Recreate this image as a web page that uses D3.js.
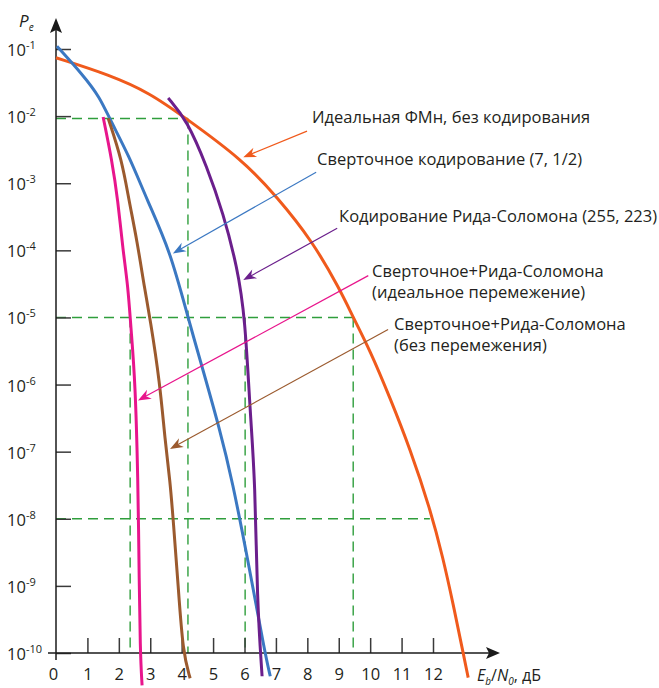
<!DOCTYPE html>
<html>
<head>
<meta charset="utf-8">
<script src="https://cdn.jsdelivr.net/npm/d3@7/dist/d3.min.js"></script>
<style>
  body { margin: 0; background: #fff; }
  svg { display: block; }
  text { font-family: "Open Sans", "Noto Sans", sans-serif; fill: #231f20; }
</style>
</head>
<body>
<svg id="chart" width="659" height="688"></svg>
<script>
// --- data (Eb/N0 in dB, Pe) ---
const xTicks = [0, 1, 2, 3, 4, 5, 6, 7, 8, 9, 10, 11, 12];
const yTicks = [1e-1, 1e-2, 1e-3, 1e-4, 1e-5, 1e-6, 1e-7, 1e-8, 1e-9, 1e-10];

const uncodedDb = [0, 1.72, 2.99, 4.04, 5.96, 7.04, 8.15, 9.04, 9.46, 10.0, 10.64, 11.27, 11.91, 12.32, 12.64, 12.96, 13.12];
const uncodedPe = [7.4e-2, 4.1e-2, 2.2e-2, 1e-2, 2.2e-3, 6.2e-4, 1.4e-4, 2.6e-5, 1e-5, 3.2e-6, 6.2e-7, 1.1e-7, 1.4e-8, 2.6e-9, 5.4e-10, 1e-10, 4.3e-11];

const convDb = [0.03, 0.86, 1.40, 1.72, 2.32, 2.90, 3.63, 4.20, 4.59, 5.22, 5.61, 6.11, 6.65, 6.82];
const convPe = [1.1e-1, 4.1e-2, 1.9e-2, 8.8e-3, 2.6e-3, 5.6e-4, 1e-4, 1e-5, 2.3e-6, 2.1e-7, 3.7e-8, 2.4e-9, 1e-10, 4.5e-11];

const rsDb = [3.57, 4.17, 4.81, 5.32, 5.77, 6.02, 6.18, 6.34, 6.40, 6.56];
const rsPe = [1.86e-2, 8.7e-3, 1.73e-3, 3.6e-4, 5.6e-5, 1e-5, 3.7e-7, 3.7e-8, 6e-10, 4.5e-11];

const concatIdealDb = [1.50, 1.78, 1.97, 2.13, 2.29, 2.39, 2.52, 2.61, 2.64, 2.68, 2.74];
const concatIdealPe = [9.7e-3, 2.2e-3, 5.6e-4, 1e-4, 3e-5, 6.4e-6, 1.15e-6, 3.7e-8, 2.4e-9, 1e-10, 3.3e-11];

const concatNoIlDb = [1.66, 2.10, 2.32, 2.58, 2.83, 2.99, 3.31, 3.47, 3.63, 3.73, 3.89, 4.04, 4.27];
const concatNoIlPe = [9.3e-3, 2.2e-3, 5.6e-4, 1.4e-4, 2.5e-5, 1e-5, 1.04e-6, 1.46e-7, 3.7e-8, 9.7e-9, 1e-9, 1e-10, 4.2e-11];

// dashed guide lines
const guideHPe = [9.2e-3, 1e-5, 1e-8];
const guideHEnd = [4.2, 9.46, 11.9];
const guideVDb = [2.36, 4.2, 6.02, 9.46];
const guideVTop = [1e-5, 9.2e-3, 1e-5, 1e-5];

// annotation labels
const labelLines = [
  ["Идеальная ФМн, без кодирования"],
  ["Сверточное кодирование (7, 1/2)"],
  ["Кодирование Рида-Соломона (255, 223)"],
  ["Сверточное+Рида-Соломона", "(идеальное перемежение)"],
  ["Сверточное+Рида-Соломона", "(без перемежения)"]
];
const labelDb = [8.15, 8.31, 9.01, 10.06, 10.76];
const labelPe = [7.9e-3, 1.86e-3, 2.6e-4, 3.95e-5, 6.4e-6];
const leaderDb = [7.99, 8.28, 8.95, 9.94, 10.57];
const leaderPe = [5.97e-3, 1.46e-3, 2.13e-4, 4.2e-5, 6.6e-6];
const tipDb = [5.96, 3.72, 5.96, 2.61, 3.63];
const tipPe = [2.44e-3, 9e-5, 3.6e-5, 5.8e-7, 1.1e-7];

const series = [
  { db: uncodedDb, pe: uncodedPe, color: "#f05a1c" },
  { db: convDb, pe: convPe, color: "#3b78c2" },
  { db: rsDb, pe: rsPe, color: "#6b1f8c" },
  { db: concatIdealDb, pe: concatIdealPe, color: "#e8158c" },
  { db: concatNoIlDb, pe: concatNoIlPe, color: "#9b5a2e" }
];

const svg = d3.select("#chart");

const x = d3.scaleLinear().domain([0, 12]).range([56, 433]);
const y = d3.scaleLog().domain([1e-10, 1e-1]).range([653, 49]);

const guideColor = "#2f9e3c";
const axisColor = "#1a1a1a";
const tickColor = "#3a3a3a";
const fontSize = 16.5;

// guide lines
const guides = svg.append("g")
  .attr("stroke", guideColor)
  .attr("stroke-width", 1.4)
  .attr("stroke-dasharray", "10,6")
  .attr("fill", "none");

guides.selectAll(".gh")
  .data(guideHPe)
  .enter().append("line")
  .attr("x1", x(0))
  .attr("x2", (d, i) => x(guideHEnd[i]))
  .attr("y1", d => y(d))
  .attr("y2", d => y(d));

guides.selectAll(".gv")
  .data(guideVDb)
  .enter().append("line")
  .attr("x1", d => x(d))
  .attr("x2", d => x(d))
  .attr("y1", (d, i) => y(guideVTop[i]))
  .attr("y2", y(1e-10));

// axes
const xAxis = d3.axisBottom(x)
  .tickValues(xTicks)
  .tickSize(-15)
  .tickPadding(15)
  .tickFormat(d3.format("d"));

const gx = svg.append("g")
  .attr("transform", `translate(0, ${y(1e-10)})`)
  .call(xAxis);
gx.select(".domain").remove();
gx.selectAll(".tick line")
  .attr("stroke", tickColor)
  .attr("stroke-width", 1.5)
  .attr("display", d => d === 0 ? "none" : null);
gx.selectAll(".tick text")
  .attr("font-size", fontSize)
  .attr("font-family", "\"Open Sans\", sans-serif")
  .attr("fill", "#231f20")
  .attr("dx", d => d === 0 ? -3 : 0);

const yAxis = d3.axisRight(y)
  .tickValues(yTicks)
  .tickSize(15)
  .tickFormat("");

const gy = svg.append("g")
  .attr("transform", `translate(${x(0)}, 0)`)
  .call(yAxis);
gy.select(".domain").remove();
gy.selectAll(".tick line").attr("stroke", tickColor).attr("stroke-width", 1.5);

// y tick labels 10^n
const yLabels = svg.append("g");
yTicks.forEach(v => {
  const t = yLabels.append("text")
    .attr("x", 7)
    .attr("y", y(v) + 7)
    .attr("font-size", fontSize);
  t.append("tspan").text("10");
  t.append("tspan")
    .attr("dy", -7)
    .attr("font-size", 11)
    .text(String(Math.round(Math.log10(v))));
});

// axis lines with arrows
svg.append("line")
  .attr("x1", 48).attr("x2", 492)
  .attr("y1", y(1e-10)).attr("y2", y(1e-10))
  .attr("stroke", axisColor).attr("stroke-width", 1.5);
svg.append("path")
  .attr("d", `M500,${y(1e-10)} L486,${y(1e-10) - 6} L489,${y(1e-10)} L486,${y(1e-10) + 6} Z`)
  .attr("fill", axisColor);

svg.append("line")
  .attr("x1", x(0)).attr("x2", x(0))
  .attr("y1", 660).attr("y2", 28)
  .attr("stroke", axisColor).attr("stroke-width", 1.5);
svg.append("path")
  .attr("d", `M${x(0)},18 L${x(0) - 6},33 L${x(0)},30 L${x(0) + 6},33 Z`)
  .attr("fill", axisColor);

// axis titles
const pe = svg.append("text")
  .attr("x", 19).attr("y", 27)
  .attr("font-size", 17)
  .attr("font-style", "italic");
pe.append("tspan").text("P");
pe.append("tspan").attr("dy", 4).attr("font-size", 10).text("e");

const xt = svg.append("text")
  .attr("x", 477).attr("y", 681)
  .attr("font-size", 16);
xt.append("tspan").attr("font-style", "italic").text("E");
xt.append("tspan").attr("font-style", "italic").attr("dy", 4).attr("font-size", 10).text("b");
xt.append("tspan").attr("dy", -4).text("/");
xt.append("tspan").attr("font-style", "italic").text("N");
xt.append("tspan").attr("font-style", "italic").attr("dy", 4).attr("font-size", 10).text("0");
xt.append("tspan").attr("dy", -4).text(", дБ");

// curves
const line = d3.line()
  .x(d => x(d[0]))
  .y(d => y(d[1]))
  .curve(d3.curveBasis);

svg.append("g")
  .selectAll("path")
  .data(series)
  .enter().append("path")
  .attr("d", s => line(s.db.map((v, i) => [v, s.pe[i]])))
  .attr("fill", "none")
  .attr("stroke", s => s.color)
  .attr("stroke-width", 3)
  .attr("stroke-linecap", "butt");

// annotations
const ann = svg.append("g");
labelLines.forEach((lines, i) => {
  const color = series[i].color;
  const x0 = x(leaderDb[i]), y0 = y(leaderPe[i]);
  const x1 = x(tipDb[i]), y1 = y(tipPe[i]);
  const ang = Math.atan2(y1 - y0, x1 - x0) * 180 / Math.PI;
  const len = Math.hypot(x1 - x0, y1 - y0);

  ann.append("line")
    .attr("x1", x0).attr("y1", y0)
    .attr("x2", x0 + (x1 - x0) * (len - 6) / len)
    .attr("y2", y0 + (y1 - y0) * (len - 6) / len)
    .attr("stroke", color)
    .attr("stroke-width", 1.2);

  ann.append("path")
    .attr("d", "M0,0 L-13,-5 L-9,0 L-13,5 Z")
    .attr("transform", `translate(${x1},${y1}) rotate(${ang})`)
    .attr("fill", color);

  const t = ann.append("text")
    .attr("x", x(labelDb[i]))
    .attr("y", y(labelPe[i]))
    .attr("font-size", fontSize);
  lines.forEach((s, k) => {
    t.append("tspan")
      .attr("x", x(labelDb[i]))
      .attr("dy", k === 0 ? 0 : 21)
      .text(s);
  });
});
</script>
</body>
</html>
